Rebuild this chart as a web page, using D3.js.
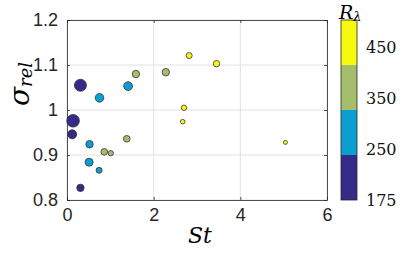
<!DOCTYPE html>
<html>
<head>
<meta charset="utf-8">
<script src="https://cdn.jsdelivr.net/npm/d3@7/dist/d3.min.js"></script>
<style>
  body { margin: 0; background: #fff; }
  .tick text { font-family: "Liberation Sans", Arial, sans-serif; }
  .tex { font-family: "DejaVu Serif", serif; }
</style>
</head>
<body>
<div id="chart"></div>
<script>
// data
var stValues    = [0.31, 1.41, 0.75, 0.14, 0.12, 0.52, 0.51, 0.74, 0.31, 0.86, 1.01, 1.38, 1.59, 2.28, 2.82, 3.45, 2.70, 2.67, 5.04];
var sigmaValues = [1.055, 1.053, 1.027, 0.976, 0.946, 0.924, 0.884, 0.866, 0.827, 0.907, 0.904, 0.936, 1.080, 1.084, 1.121, 1.103, 1.005, 0.974, 0.928];
var reLambda    = [200, 300, 300, 200, 200, 300, 300, 300, 200, 400, 400, 400, 400, 400, 470, 470, 470, 470, 470];
var markerArea  = [144, 77, 74, 159, 81, 55, 64, 36, 55, 44, 29, 44, 55, 55, 36, 41, 29, 21, 16];

var xTicks = [0, 2, 4, 6];
var yTicks = [0.8, 0.9, 1, 1.1, 1.2];
var yTickLabels = ["0.8", "0.9", "1", "1.1", "1.2"];

var cbColors = ["#352a87", "#0b9fd1", "#a5be6b", "#f8fa0d"];
var cbThresholds = [250, 350, 450];
var cbTickValues = [150, 250, 350, 450];
var cbTickLabels = ["175", "250", "350", "450"];

// layout
var W = 407, H = 256;
var margin = {top: 20, right: 80, bottom: 56, left: 67};
var width = 327 - margin.left, height = 200 - margin.top;

var svg = d3.select("#chart").append("svg")
    .attr("width", W).attr("height", H);

var g = svg.append("g")
    .attr("transform", "translate(" + margin.left + "," + margin.top + ")");

var x = d3.scaleLinear().domain([0, 6]).range([0, width]);
var y = d3.scaleLinear().domain([0.8, 1.2]).range([height, 0]);
var r = d3.scaleSqrt().domain([0, 400]).range([0, 10]);
var color = d3.scaleThreshold().domain(cbThresholds).range(cbColors);

// grid
g.append("g").selectAll("line.vg").data(xTicks).enter().append("line")
    .attr("x1", function(d) { return x(d); }).attr("x2", function(d) { return x(d); })
    .attr("y1", 0).attr("y2", height)
    .attr("stroke", "#e2e2e2").attr("stroke-width", 1);
g.append("g").selectAll("line.hg").data(yTicks).enter().append("line")
    .attr("y1", function(d) { return y(d); }).attr("y2", function(d) { return y(d); })
    .attr("x1", 0).attr("x2", width)
    .attr("stroke", "#e2e2e2").attr("stroke-width", 1);

// axes (MATLAB style: ticks inside, box on)
var axisColor = "#262626";
var xAxis = g.append("g").attr("transform", "translate(0," + height + ")")
    .call(d3.axisBottom(x).tickValues(xTicks).tickFormat(d3.format("d")).tickSizeInner(-3).tickSizeOuter(0).tickPadding(13));
var yAxis = g.append("g")
    .call(d3.axisLeft(y).tickValues(yTicks).tickFormat(function(d, i) { return yTickLabels[i]; }).tickSizeInner(-3).tickSizeOuter(0).tickPadding(9));
g.append("g")
    .call(d3.axisTop(x).tickValues(xTicks).tickFormat("").tickSizeInner(-3).tickSizeOuter(0));
g.append("g").attr("transform", "translate(" + width + ",0)")
    .call(d3.axisRight(y).tickValues(yTicks).tickFormat("").tickSizeInner(-3).tickSizeOuter(0));

g.selectAll(".domain, .tick line").attr("stroke", axisColor).attr("stroke-width", 0.8);
g.selectAll(".tick text").attr("fill", "#262626").style("font-size", "18px");
xAxis.selectAll(".tick text").attr("dy", "0.45em");

// points
g.append("g").selectAll("circle").data(stValues).enter().append("circle")
    .attr("cx", function(d) { return x(d); })
    .attr("cy", function(d, i) { return y(sigmaValues[i]); })
    .attr("r", function(d, i) { return r(markerArea[i]); })
    .attr("fill", function(d, i) { return color(reLambda[i]); })
    .attr("stroke", "#333").attr("stroke-width", 0.8);

// axis labels
svg.append("text").attr("class", "tex")
    .attr("x", 200).attr("y", 243)
    .attr("text-anchor", "middle")
    .style("font-style", "italic").style("font-size", "22px")
    .text("St");

var yl = svg.append("text").attr("class", "tex")
    .attr("transform", "translate(29,84) rotate(-90)")
    .attr("text-anchor", "middle")
    .style("font-style", "italic");
yl.append("tspan").style("font-size", "28px").text("σ");
yl.append("tspan").style("font-size", "18px").attr("dy", 3).text("rel");

// colorbar
var cbX = 341, cbW = 16;
var cb = d3.scaleLinear().domain([150, 505]).range([200, 20]);
var bandEdges = d3.range(cbColors.length + 1).map(function(i) { return 150 + i * (505 - 150) / cbColors.length; });
svg.append("g").selectAll("rect").data(cbColors).enter().append("rect")
    .attr("x", cbX).attr("width", cbW)
    .attr("y", function(d, i) { return cb(bandEdges[i + 1]); })
    .attr("height", function(d, i) { return cb(bandEdges[i]) - cb(bandEdges[i + 1]); })
    .attr("fill", function(d) { return d; });
svg.append("rect").attr("x", cbX).attr("y", 20).attr("width", cbW).attr("height", 180)
    .attr("fill", "none").attr("stroke", axisColor).attr("stroke-width", 0.8);

svg.append("g").selectAll("text").data(cbTickValues).enter().append("text")
    .attr("class", "tex")
    .attr("x", 366).attr("y", function(d) { return cb(d); })
    .attr("dy", "0.35em")
    .style("font-size", "16px").attr("fill", "#111")
    .text(function(d, i) { return cbTickLabels[i]; });

var cbt = svg.append("text").attr("class", "tex")
    .attr("x", 339).attr("y", 19)
    .style("font-style", "italic");
cbt.append("tspan").style("font-size", "19px").text("R");
cbt.append("tspan").style("font-size", "13px").attr("dy", 2).text("λ");
</script>
</body>
</html>
